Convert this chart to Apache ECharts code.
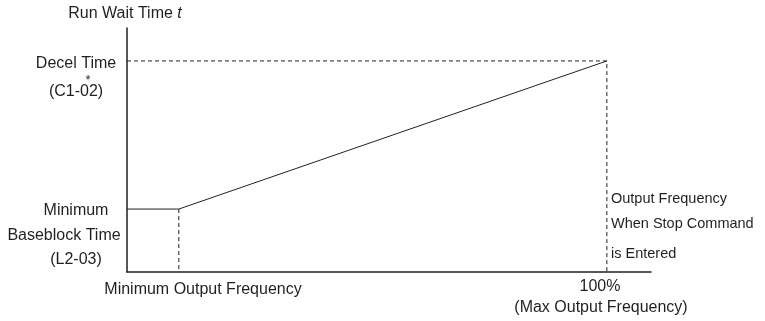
<!DOCTYPE html>
<html>
<head>
<meta charset="utf-8">
<script src="https://cdn.jsdelivr.net/npm/echarts@6/dist/echarts.min.js"></script>
<style>
  html, body { margin: 0; padding: 0; background: #fff; }
  #chart { width: 765px; height: 321px; }
</style>
</head>
<body>
<div id="chart"></div>
<script>
// Run wait time vs. output frequency when the stop command is entered
const freqPoints = [0, 10.8, 100];          // % of max output frequency
const waitPoints = [25.8, 25.8, 86.5];      // run wait time (relative)
const minFreq = 10.8;
const maxFreq = 100;
const minBaseblock = 25.8;
const decelTime = 86.5;

const ink = '#231f20';
const font = 'Liberation Sans, Arial, sans-serif';
const f16 = '16px ' + font;
const f145 = '14.5px ' + font;

const chart = echarts.init(document.getElementById('chart'));

const dashed = { color: ink, width: 1, type: [4, 3] };

function label(text, x, y, align, f) {
  return { type: 'text', x: x, y: y, style: { text: text, font: f || f16, fill: ink, align: align || 'center', verticalAlign: 'middle' } };
}

chart.setOption({
  animation: false,
  grid: { left: 127, right: 114, top: 28, bottom: 49 },
  xAxis: {
    type: 'value', min: 0, max: 109.2,
    axisLine: { show: true, lineStyle: { color: ink, width: 1.5 } },
    axisTick: { show: false }, axisLabel: { show: false }, splitLine: { show: false }
  },
  yAxis: {
    type: 'value', min: 0, max: 100,
    axisLine: { show: true, lineStyle: { color: ink, width: 1.5 } },
    axisTick: { show: false }, axisLabel: { show: false }, splitLine: { show: false }
  },
  series: [
    {
      type: 'line', symbol: 'none',
      data: freqPoints.map((f, i) => [f, waitPoints[i]]),
      lineStyle: { color: ink, width: 1 }
    },
    {
      type: 'line', symbol: 'none',
      data: [[minFreq, minBaseblock], [minFreq, 0]],
      lineStyle: dashed
    },
    {
      type: 'line', symbol: 'none',
      data: [[0, decelTime], [maxFreq, decelTime], [maxFreq, 0]],
      lineStyle: dashed
    }
  ],
  graphic: [
    {
      type: 'text', x: 125, y: 14,
      style: {
        text: '{n|Run Wait Time }{i|t}', align: 'center', verticalAlign: 'middle',
        rich: { n: { font: f16, fill: ink }, i: { font: 'italic ' + f16, fill: ink } }
      }
    },
    label('Decel Time', 76, 64),
    { type: 'text', x: 88, y: 80, style: { text: '*', font: '13px ' + font, fill: ink, align: 'center', verticalAlign: 'middle' } },
    label('(C1-02)', 76, 92),
    label('Minimum', 76, 211),
    label('Baseblock Time', 64, 236),
    label('(L2-03)', 76, 260),
    label('Minimum Output Frequency', 203, 290),
    label('100%', 600, 287),
    label('(Max Output Frequency)', 601, 308),
    label('Output Frequency', 611, 199, 'left', f145),
    label('When Stop Command', 611, 224, 'left', f145),
    label('is Entered', 611, 254, 'left', f145)
  ]
});
</script>
</body>
</html>
